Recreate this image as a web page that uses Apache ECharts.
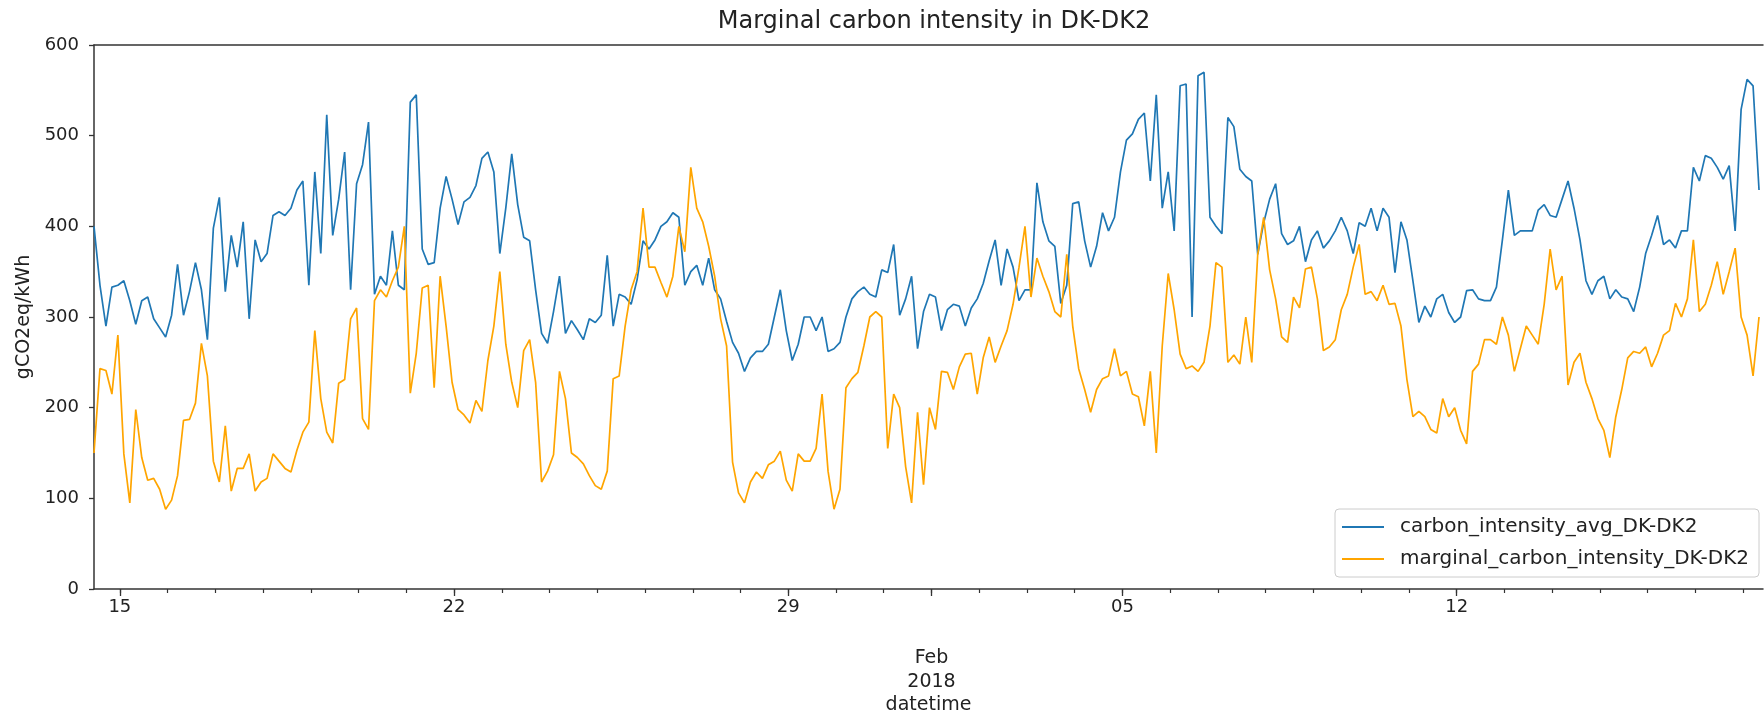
<!DOCTYPE html>
<html>
<head>
<meta charset="UTF-8"/>
<title>Marginal carbon intensity in DK-DK2</title>
<script src="https://cdn.jsdelivr.net/npm/echarts@6/dist/echarts.min.js"></script>
<style>
  html, body { margin: 0; padding: 0; background: #fff; }
  #chart { width: 1764px; height: 720px; }
</style>
</head>
<body>
<div id="chart"></div>
<script type="text/javascript">
// samples every 3 hours, first one at 2018-01-14 11:00
var startTime = Date.UTC(2018, 0, 14, 11);
var stepHours = 3;

var carbonAvg = [
  400, 335, 290, 333, 335, 340, 318, 292, 318, 322,
  298, 288, 278, 302, 358, 302, 328, 360, 330, 275,
  398, 432, 328, 390, 355, 405, 298, 385, 361, 370,
  412, 416, 412, 420, 440, 450, 335, 460, 370, 523,
  390, 430, 482, 330, 447, 468, 515, 325, 345, 335,
  395, 335, 330, 537, 545, 375, 358, 360, 420, 455,
  430, 402, 427, 432, 445, 475, 482, 460, 370, 420,
  480, 424, 388, 384, 330, 282, 271, 306, 345, 282,
  296, 286, 275, 298, 294, 302, 368, 290, 325, 322,
  314, 341, 384, 375, 385, 400, 405, 415, 410, 335,
  350, 357, 335, 365, 330, 320, 295, 272, 260, 240,
  255, 262, 262, 270, 300, 330, 285, 252, 270, 300,
  300, 285, 300, 262, 265, 272, 300, 320, 328, 333,
  325, 322, 352, 349, 380, 302, 320, 345, 265, 306,
  325, 322, 285, 308, 314, 312, 290, 310, 320, 337,
  362, 385, 335, 375, 355, 318, 330, 330, 448, 405,
  384, 378, 315, 335, 425, 427, 384, 355, 378, 415,
  395, 410, 460, 495, 502, 518, 525, 450, 545, 420,
  460, 395, 555, 557, 300, 566, 570, 410, 400, 392,
  520, 510, 463, 455, 450, 369, 404, 430, 447, 392,
  380, 384, 400, 361, 385, 395, 376, 384, 395, 410,
  395, 370, 404, 400, 420, 395, 420, 410, 349, 405,
  385, 340, 294, 312, 300, 320, 325, 305, 294, 300,
  329, 330, 320, 318, 318, 333, 385, 440, 390, 395,
  395, 395, 418, 424, 412, 410, 430, 450, 420, 385,
  340, 325, 340, 345, 320, 330, 322, 320, 306, 333,
  370, 390, 412, 380, 385, 376, 395, 395, 465, 450,
  478, 475, 465, 452, 467, 395, 529, 562, 555, 440
];

var carbonMarginal = [
  150, 243, 241, 215, 280, 149, 95, 198, 145, 120,
  122, 110, 88, 98, 125, 186, 187, 205, 271, 235,
  141, 118, 180, 108, 133, 133, 149, 108, 118, 122,
  149, 141, 133, 129, 153, 173, 184, 285, 210, 173,
  161, 227, 231, 298, 310, 188, 176, 318, 330, 322,
  340, 355, 400, 216, 260, 332, 335, 222, 345, 290,
  228, 198, 192, 183, 208, 196, 252, 290, 350, 270,
  228, 200, 263, 275, 228, 118, 130, 148, 240, 210,
  150, 145, 138, 125, 114, 110, 130, 232, 235, 290,
  330, 350, 420, 355, 355, 338, 322, 345, 400, 372,
  465, 420, 405, 378, 345, 298, 268, 140, 106, 95,
  118, 129, 122, 137, 141, 152, 120, 108, 149, 141,
  141, 155, 215, 130, 88, 110, 222, 232, 239, 268,
  300, 306, 300, 155, 215, 200, 135, 95, 195, 115,
  200, 176, 240, 239, 220, 245, 259, 260, 215, 255,
  278, 250, 268, 285, 314, 355, 400, 322, 365, 345,
  328, 306, 300, 369, 290, 243, 220, 195, 220, 232,
  235, 265, 235, 240, 215, 212, 180, 240, 150, 268,
  348, 308, 259, 243, 246, 240, 250, 290, 360, 355,
  250, 258, 248, 300, 250, 369, 410, 352, 320, 278,
  272, 322, 310, 353, 355, 320, 263, 267, 275, 308,
  325, 355, 380, 325, 328, 318, 335, 314, 315, 290,
  231, 190, 196, 190, 176, 172, 210, 190, 200, 175,
  160, 240, 248, 275, 275, 270, 300, 280, 240, 265,
  290, 280, 270, 314, 375, 330, 345, 225, 250, 260,
  228, 210, 188, 175, 145, 190, 220, 255, 262, 260,
  267, 245, 260, 280, 285, 315, 300, 320, 385, 306,
  314, 335, 361, 325, 350, 376, 300, 280, 235, 300
];

var seriesNames = ['carbon_intensity_avg_DK-DK2', 'marginal_carbon_intensity_DK-DK2'];
var seriesColors = ['#1f77b4', '#ffa500'];

// major ticks (weekly, labelled) and the month marker
var weekTicks = ['2018-01-15', '2018-01-22', '2018-01-29', '2018-02-05', '2018-02-12'];
var weekLabels = ['15', '22', '29', '05', '12'];
var monthTick = '2018-02-01';
var monthLabel = 'Feb\n2018';
var yTicks = [0, 100, 200, 300, 400, 500, 600];

var xMin = Date.UTC(2018, 0, 14, 11);
var xMax = Date.UTC(2018, 1, 18, 10);

function toMs(s) {
  var p = s.split('-');
  return Date.UTC(+p[0], +p[1] - 1, +p[2]);
}

var weekMs = weekTicks.map(toMs);
var monthMs = toMs(monthTick);
var dayMs = [];
for (var t = Date.UTC(2018, 0, 15); t <= xMax; t += 86400000) {
  dayMs.push(t);
}

function pairs(values) {
  return values.map(function (v, i) {
    return [startTime + i * stepHours * 3600000, v];
  });
}

var font = 'DejaVu Sans';
var axisColor = '#333';

var chart = echarts.init(document.getElementById('chart'));
var option = {
  animation: false,
  backgroundColor: '#fff',
  title: {
    text: 'Marginal carbon intensity in DK-DK2',
    left: 929,
    top: 5,
    textAlign: 'center',
    textStyle: { fontFamily: font, fontSize: 24, fontWeight: 'normal', color: '#222' }
  },
  legend: {
    orient: 'vertical',
    left: 1335,
    top: 509,
    padding: [8, 10, 8, 7],
    itemWidth: 42,
    itemHeight: 2,
    itemGap: 12,
    icon: 'rect',
    backgroundColor: '#fff',
    borderColor: '#ccc',
    borderWidth: 1,
    borderRadius: 4,
    textStyle: { fontFamily: font, fontSize: 20, color: '#222', padding: [0, 0, 0, 11] },
    data: seriesNames
  },
  grid: { left: 94, top: 45, right: 1, bottom: 131 },
  xAxis: [
    {
      type: 'value',
      min: xMin,
      max: xMax,
      position: 'bottom',
      axisLine: { show: true, lineStyle: { color: axisColor, width: 1.5 } },
      axisTick: { show: true, length: 7, customValues: weekMs.concat([monthMs]), lineStyle: { color: axisColor, width: 1.3 } },
      axisLabel: {
        customValues: weekMs,
        margin: 9,
        fontFamily: font,
        fontSize: 18,
        color: '#222',
        formatter: function (v) {
          var i = weekMs.indexOf(v);
          return i >= 0 ? weekLabels[i] : '';
        }
      },
      splitLine: { show: false },
      name: 'datetime',
      nameLocation: 'middle',
      nameGap: 107,
      nameTextStyle: { fontFamily: font, fontSize: 19, color: '#222' }
    },
    {
      type: 'value',
      min: xMin,
      max: xMax,
      position: 'bottom',
      axisLine: { show: false },
      axisTick: { show: true, length: 4, customValues: dayMs, lineStyle: { color: axisColor, width: 1.2 } },
      axisLabel: {
        customValues: [monthMs],
        margin: 57,
        fontFamily: font,
        fontSize: 19,
        lineHeight: 24,
        color: '#222',
        formatter: function () { return monthLabel; }
      },
      splitLine: { show: false }
    },
    {
      type: 'value',
      min: xMin,
      max: xMax,
      position: 'top',
      axisLine: { show: true, lineStyle: { color: axisColor, width: 1.5 } },
      axisTick: { show: false },
      axisLabel: { show: false },
      splitLine: { show: false }
    }
  ],
  yAxis: {
    type: 'value',
    min: 0,
    max: 600,
    interval: 100,
    axisLine: { show: true, lineStyle: { color: axisColor, width: 1.5 } },
    axisTick: { show: true, length: 5, customValues: yTicks, lineStyle: { color: axisColor, width: 1.3 } },
    axisLabel: { margin: 15, fontFamily: font, fontSize: 18, color: '#222' },
    splitLine: { show: false },
    name: 'gCO2eq/kWh',
    nameLocation: 'middle',
    nameGap: 60,
    nameTextStyle: { fontFamily: font, fontSize: 19, color: '#222' }
  },
  series: [
    {
      name: seriesNames[0],
      type: 'line',
      xAxisIndex: 0,
      showSymbol: false,
      symbol: 'none',
      color: seriesColors[0],
      lineStyle: { width: 1.7, color: seriesColors[0] },
      data: pairs(carbonAvg)
    },
    {
      name: seriesNames[1],
      type: 'line',
      xAxisIndex: 0,
      showSymbol: false,
      symbol: 'none',
      color: seriesColors[1],
      lineStyle: { width: 1.7, color: seriesColors[1] },
      data: pairs(carbonMarginal)
    }
  ]
};
chart.setOption(option);
</script>
</body>
</html>
